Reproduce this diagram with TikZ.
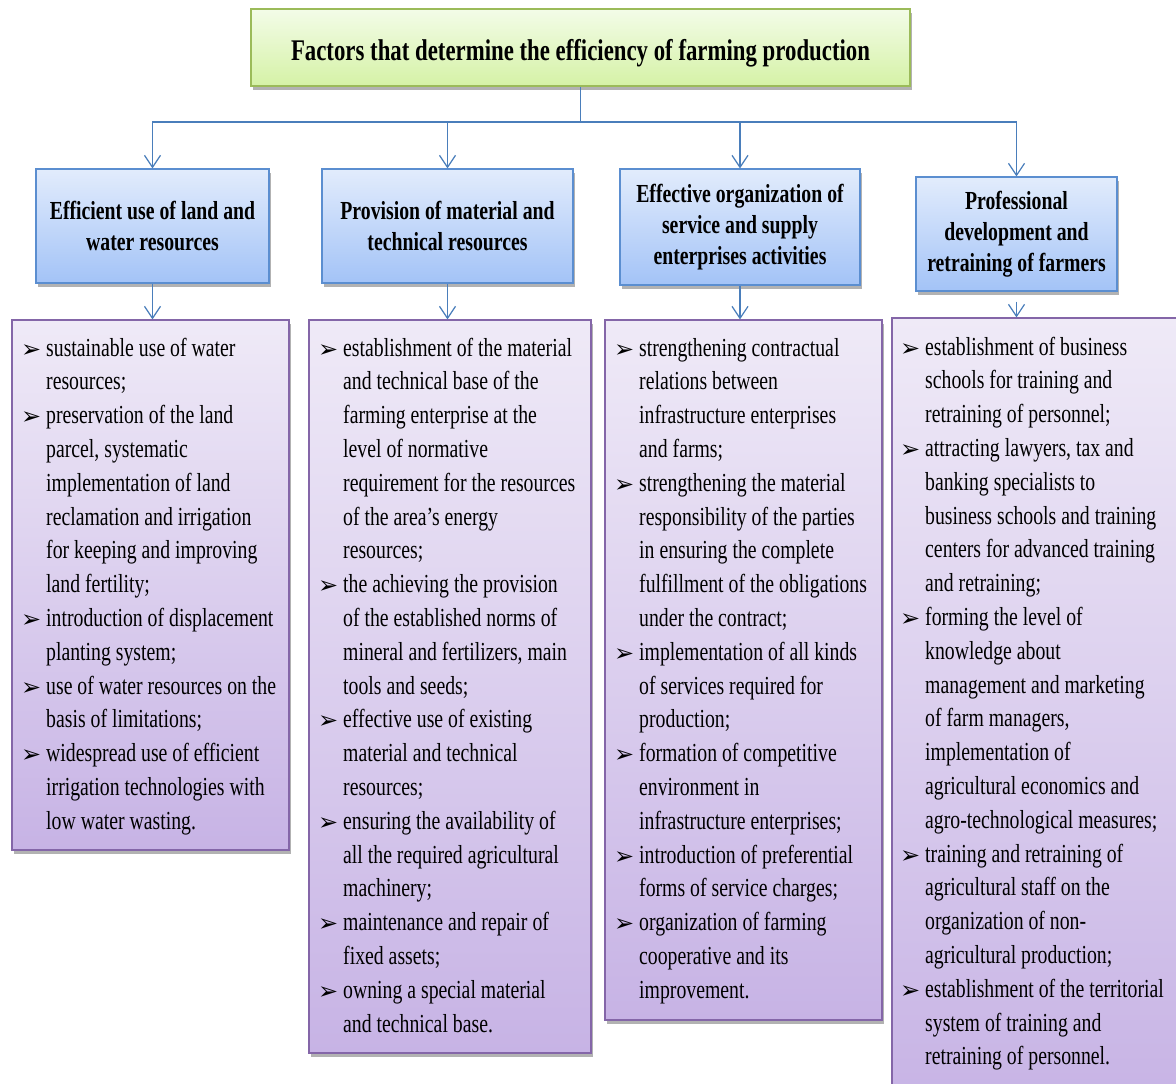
\documentclass[tikz,border=0pt]{standalone}
\usepackage{fontspec}
\setmainfont{Liberation Serif}[FakeStretch=0.76]
\newfontfamily\bulfont{DejaVu Sans}
\usetikzlibrary{arrows.meta,shadows}
\definecolor{lnblue}{HTML}{4A7EBB}
\definecolor{tgtop}{HTML}{F3FCE8}
\definecolor{tgbot}{HTML}{D5F2A6}
\definecolor{tgbrd}{HTML}{9BBB59}
\definecolor{hbtop}{HTML}{E2ECFC}
\definecolor{hbbot}{HTML}{A3C3F7}
\definecolor{hbbrd}{HTML}{5B8ED0}
\definecolor{lptop}{HTML}{EFEAF7}
\definecolor{lpbot}{HTML}{C7B3E5}
\definecolor{lpbrd}{HTML}{8466A8}
\newcommand\bu{\leavevmode\llap{\raisebox{-1pt}{\bulfont\fontsize{24}{24}\selectfont ➢}\hspace{5pt}}}
\tikzset{
  shad/.style={drop shadow={shadow xshift=2pt,shadow yshift=-4pt,opacity=0.3,fill=black}},
  titlebox/.style={draw=tgbrd,line width=1.2pt,top color=tgtop,bottom color=tgbot,shad,
     minimum width=659pt,minimum height=77pt,inner sep=0pt,
     font=\bfseries\fontsize{30}{34}\selectfont},
  hdrbox/.style={draw=hbbrd,line width=1.2pt,top color=hbtop,bottom color=hbbot,shad,
     inner sep=0pt,align=center,font=\bfseries\fontsize{26}{31}\selectfont},
  listbox/.style={draw=lpbrd,line width=1.2pt,top color=lptop,bottom color=lpbot,shad,inner sep=0pt},
  listtext/.style={anchor=base west,inner sep=0pt,font=\fontsize{26}{33.8}\selectfont},
  conn/.style={draw=lnblue,line width=1.2pt},
  arr/.style={conn,-{Straight Barb[length=12pt,width=16pt]}}
}
\begin{document}
\begin{tikzpicture}[x=1pt,y=-1pt]
\useasboundingbox (0,0) rectangle (1176,1084);
\clip (0,0) rectangle (1176,1084);
% title
\node[titlebox] (title) at (580.5,47.5) {\raisebox{-2pt}[\height][0pt]{Factors that determine the efficiency of farming production}};
% headers
\node[hdrbox,minimum width=233pt,minimum height=114pt] (h1) at (152.5,226) {Efficient use of land and\\water resources};
\node[hdrbox,minimum width=251pt,minimum height=114pt] (h2) at (447.5,226) {Provision of material and\\technical resources};
\node[hdrbox,minimum width=240pt,minimum height=116pt] (h3) at (740,227) {Effective organization of\\service and supply\\enterprises activities};
\node[hdrbox,minimum width=201pt,minimum height=114pt] (h4) at (1016.5,234) {Professional\\development and\\retraining of farmers};
% list boxes
\node[listbox,minimum width=277pt,minimum height=530pt] (l1) at (150.5,585) {};
\node[listbox,minimum width=282pt,minimum height=733pt] (l2) at (450,686.5) {};
\node[listbox,minimum width=277pt,minimum height=700pt] (l3) at (743.5,670) {};
\node[listbox,minimum width=300pt,minimum height=790pt] (l4) at (1042,713) {};
% connectors
\coordinate (j) at (580.5,122);
\draw[conn] (title.south) -- (j);
\draw[arr] (j) -| (h1.north);
\draw[arr] (j) -| (h2.north);
\draw[arr] (j) -| (h3.north);
\draw[arr] (j) -| (h4.north);
\draw[arr] (h1.south) -- (h1.south |- l1.north);
\draw[arr] (h2.south) -- (h2.south |- l2.north);
\draw[arr] (h3.south) -- (h3.south |- l3.north);
\draw[arr] ([yshift=-10pt]h4.south) -- (h4.south |- l4.north);
% list texts
\node[listtext] (t1) at (46,356) {\parbox[t]{320pt}{%
\bu sustainable use of water\\
resources;\\
\bu preservation of the land\\
parcel, systematic\\
implementation of land\\
reclamation and irrigation\\
for keeping and improving\\
land fertility;\\
\bu introduction of displacement\\
planting system;\\
\bu use of water resources on the\\
basis of limitations;\\
\bu widespread use of efficient\\
irrigation technologies with\\
low water wasting.}};
\node[listtext] (t2) at (343,356) {\parbox[t]{320pt}{%
\bu establishment of the material\\
and technical base of the\\
farming enterprise at the\\
level of normative\\
requirement for the resources\\
of the area's energy\\
resources;\\
\bu the achieving the provision\\
of the established norms of\\
mineral and fertilizers, main\\
tools and seeds;\\
\bu effective use of existing\\
material and technical\\
resources;\\
\bu ensuring the availability of\\
all the required agricultural\\
machinery;\\
\bu maintenance and repair of\\
fixed assets;\\
\bu owning a special material\\
and technical base.}};
\node[listtext] (t3) at (639,356) {\parbox[t]{320pt}{%
\bu strengthening contractual\\
relations between\\
infrastructure enterprises\\
and farms;\\
\bu strengthening the material\\
responsibility of the parties\\
in ensuring the complete\\
fulfillment of the obligations\\
under the contract;\\
\bu implementation of all kinds\\
of services required for\\
production;\\
\bu formation of competitive\\
environment in\\
infrastructure enterprises;\\
\bu introduction of preferential\\
forms of service charges;\\
\bu organization of farming\\
cooperative and its\\
improvement.}};
\node[listtext] (t4) at (925,355) {\parbox[t]{320pt}{%
\bu establishment of business\\
schools for training and\\
retraining of personnel;\\
\bu attracting lawyers, tax and\\
banking specialists to\\
business schools and training\\
centers for advanced training\\
and retraining;\\
\bu forming the level of\\
knowledge about\\
management and marketing\\
of farm managers,\\
implementation of\\
agricultural economics and\\
agro-technological measures;\\
\bu training and retraining of\\
agricultural staff on the\\
organization of non-\\
agricultural production;\\
\bu establishment of the territorial\\
system of training and\\
retraining of personnel.}};
\end{tikzpicture}
\end{document}
